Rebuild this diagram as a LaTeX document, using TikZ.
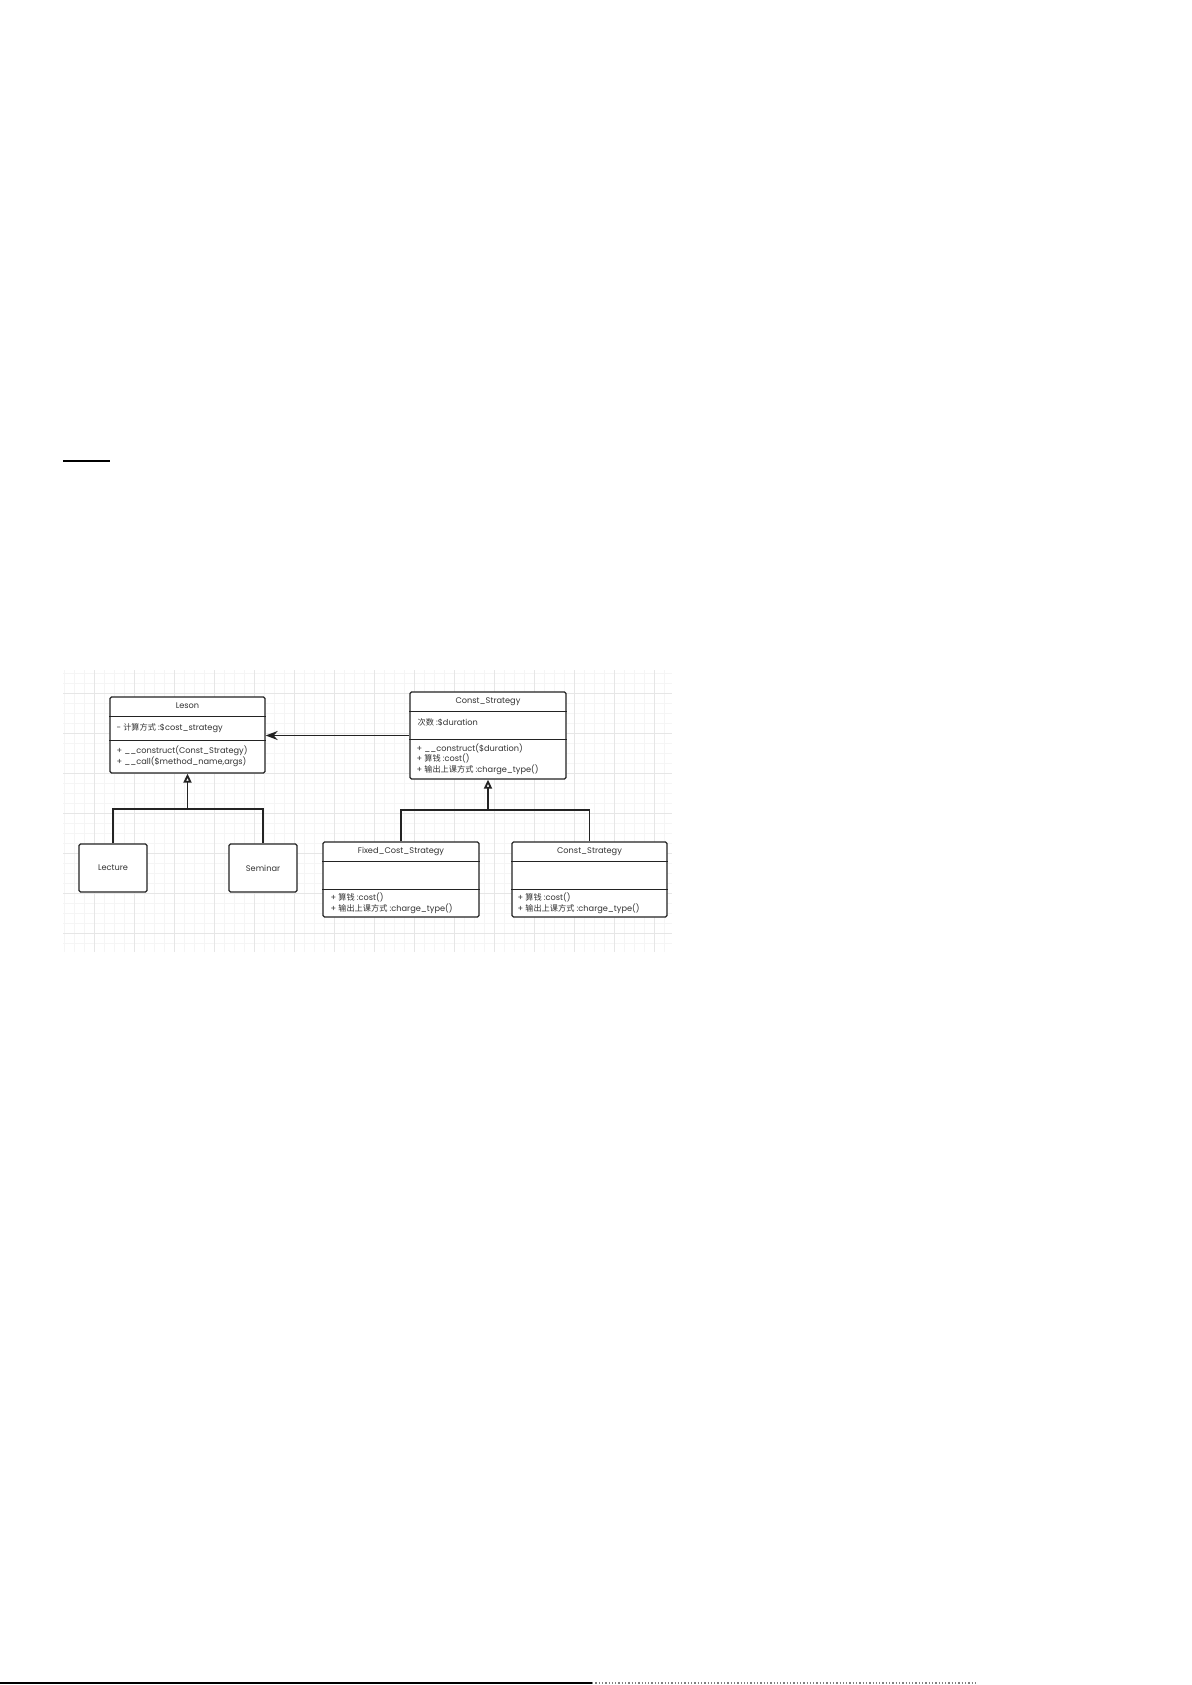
\documentclass[tikz,border=0pt]{standalone}
\usepackage{fontspec}
\setmainfont{Poppins}
\newfontfamily\cjk{Noto Sans CJK SC}
\usetikzlibrary{calc,arrows.meta}

\definecolor{boxline}{RGB}{35,35,35}
\definecolor{txt}{RGB}{50,50,50}
\definecolor{gridminor}{RGB}{245,245,245}
\definecolor{gridmajor}{RGB}{230,230,230}

% grid of the drawing area
\def\gxa{64}
\def\gxb{672}
\def\gya{670}
\def\gyb{952}

\tikzset{
  umlbox/.style={draw=boxline, line width=1.3pt, rounded corners=1.5pt, fill=white, inner sep=0pt},
  lbl/.style={font=\fontsize{8.2}{10.5}\selectfont, text=txt, inner sep=0pt},
  member/.style={lbl, anchor=west, align=left},
  sepline/.style={draw=boxline, line width=1.1pt},
  link/.style={draw=boxline, line width=1.8pt},
  gen/.style={link, -{Triangle[open, length=9pt, width=8pt]}},
  assoc/.style={link, -{Stealth[length=12pt, width=9pt]}}
}

% name, x1, y1, x2, y2
\newcommand{\umlnode}[5]{%
  \node[umlbox, minimum width={#4-#2}, minimum height={#5-#3}] (#1) at ({(#2+#4)/2},{(#3+#5)/2}) {};
}

\begin{document}
\begin{tikzpicture}[x=1pt, y=-1pt]
\useasboundingbox (0,0) rectangle (1191,1685);
\fill[white] (0,0) rectangle (1191,1685);

% page marks
\draw[line width=1.3pt] (63,461) -- (110,461);
\draw[line width=1.3pt] (0,1683) -- (592,1683);
\draw[gray, line width=1.3pt, dotted] (592,1683) -- (975,1683);

% grid
\foreach \x in {\gxa,74,...,\gxb}{
    \draw[gridminor, line width=0.6pt] (\x,\gya) -- (\x,\gyb);
}
\foreach \y in {673,683,...,\gyb}{
    \draw[gridminor, line width=0.6pt] (\gxa-1,\y) -- (\gxb,\y);
}
\foreach \x in {94,134,...,\gxb}{
    \draw[gridmajor, line width=0.7pt] (\x,\gya) -- (\x,\gyb);
}
\foreach \y in {693,733,...,\gyb}{
    \draw[gridmajor, line width=0.7pt] (\gxa-1,\y) -- (\gxb,\y);
}

% classes
\umlnode{leson}{110}{697}{265}{773}
\umlnode{cs}{410}{692}{566}{779}
\umlnode{lecture}{79}{844}{147}{892}
\umlnode{seminar}{229}{844}{297}{892}
\umlnode{fixed}{323}{842}{479}{917}
\umlnode{cs2}{512}{842}{667}{917}

\foreach \n/\a/\b in {leson/20/44, cs/20/48, fixed/20/48, cs2/20/48}{
    \draw[sepline] ($(\n.north west)+(0,\a)$) -- ($(\n.north east)+(0,\a)$);
    \draw[sepline] ($(\n.north west)+(0,\b)$) -- ($(\n.north east)+(0,\b)$);
}

\node[lbl] (leson-t) at ($(leson.north)+(0,9.5)$) {Leson};
\node[member] (leson-a) at ($(leson.north west)+(7,32)$) {- {\cjk 计算方式} :\$cost\_strategy};
\node[member] (leson-m) at ($(leson.north west)+(7,60)$) {+ \_\_construct(Const\_Strategy)\\+ \_\_call(\$method\_name,args)};

\node[lbl] (cs-t) at ($(cs.north)+(0,10)$) {Const\_Strategy};
\node[member] (cs-a) at ($(cs.north west)+(8,31)$) {{\cjk 次数} :\$duration};
\node[member] (cs-m) at ($(cs.north west)+(7,67.5)$) {+ \_\_construct(\$duration)\\+ {\cjk 算钱} :cost()\\+ {\cjk 输出上课方式} :charge\_type()};

\node[lbl] (lecture-t) at (lecture) {Lecture};
\node[lbl] (seminar-t) at (seminar) {Seminar};

\node[lbl] (fixed-t) at ($(fixed.north)+(0,10)$) {Fixed\_Cost\_Strategy};
\node[member] (fixed-m) at ($(fixed.north west)+(8,62)$) {+ {\cjk 算钱} :cost()\\+ {\cjk 输出上课方式} :charge\_type()};

\node[lbl] (cs2-t) at ($(cs2.north)+(0,10)$) {Const\_Strategy};
\node[member] (cs2-m) at ($(cs2.north west)+(6,62)$) {+ {\cjk 算钱} :cost()\\+ {\cjk 输出上课方式} :charge\_type()};

% connectors
\coordinate (lj) at ($(leson.south)+(0,35)$);
\coordinate (cj) at ($(cs.south)+(0,30)$);
\draw[link] (lecture.north) |- (lj) -| (seminar.north);
\draw[gen] (lj) -- (leson.south);
\draw[link] (fixed.north) |- (cj) -| (cs2.north);
\draw[gen] (cj) -- (cs.south);
\draw[assoc] (cs.west) -- (cs.west -| leson.east);

\end{tikzpicture}
\end{document}
